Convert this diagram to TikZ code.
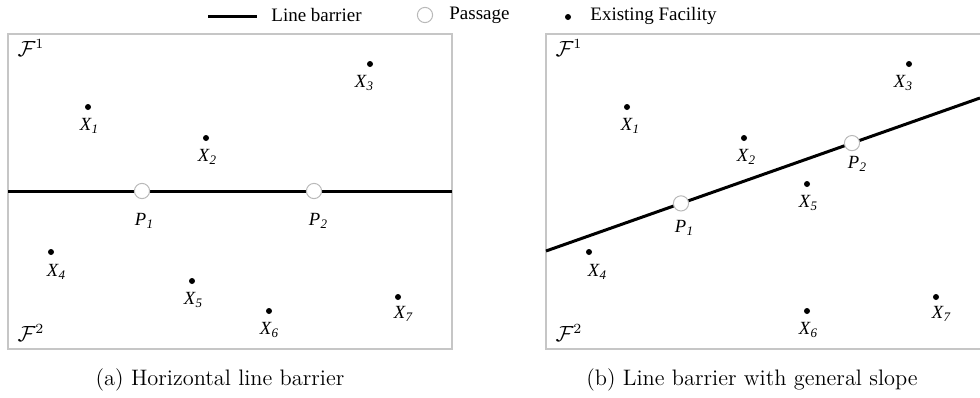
\documentclass[tikz,border=0pt]{standalone}
\usepackage{fontspec}
\newfontfamily\tnr{Liberation Serif}
\usetikzlibrary{positioning}

\newcommand{\fac}[2]{{\tnr\itshape #1\kern0.2pt\raisebox{-0.4ex}{\fontsize{6.5}{7}\selectfont #2}}}

\begin{document}
\begin{tikzpicture}[
  x=0.5pt,y=-0.5pt,
  frame/.style={draw=gray!45,line width=0.7pt},
  barrier/.style={draw=black,line width=1.5pt},
  passage/.style={circle,draw=gray!55,fill=white,line width=0.5pt,
    minimum size=7.6pt,inner sep=0pt},
  facility/.style={circle,fill=black,minimum size=3pt,inner sep=0pt},
  flab/.style={font=\fontsize{9.3}{10}\selectfont,inner sep=0pt},
  region/.style={inner sep=0pt,font=\fontsize{10.5}{11}\selectfont},
  legend/.style={font=\tnr\fontsize{9.5}{10}\selectfont,anchor=west,inner sep=0pt},
  caption/.style={font=\fontsize{11.2}{13}\selectfont}]

  \useasboundingbox (0,0) rectangle (980,397);

  % legend
  \coordinate (lgA) at (208,16);
  \coordinate (lgB) at (257,16);
  \draw[barrier] (lgA) -- (lgB);
  \node[legend] (lgline) at (271,15) {Line barrier};
  \node[passage] (lgpass) at (425,15) {};
  \node[legend] (lgpasstxt) at (449,15) {Passage};
  \node[facility] (lgfac) at (568,17) {};
  \node[legend] (lgfactxt) at (590,16) {Existing Facility};

  % (a) horizontal barrier
  \draw[frame] (8,34) rectangle (452,349);
  \node[region] (aF1) at (31,48) {$\mathcal{F}^1$};
  \node[region] (aF2) at (31,333) {$\mathcal{F}^2$};

  \coordinate (aW) at (8,191);
  \coordinate (aE) at (452,191);
  \draw[barrier] (aW) -- (aE);
  \node[passage] (aP1) at (142,191) {};
  \node[passage] (aP2) at (314,191) {};
  \node[flab] at (144,221) {\fac{P}{1}};
  \node[flab] at (318,221) {\fac{P}{2}};

  \node[facility] (aX1) at (88,107) {};
  \node[facility] (aX2) at (206,138) {};
  \node[facility] (aX3) at (370,64) {};
  \node[facility] (aX4) at (51,252) {};
  \node[facility] (aX5) at (192,281) {};
  \node[facility] (aX6) at (269,311) {};
  \node[facility] (aX7) at (398,297) {};
  \node[flab] at (89,126) {\fac{X}{1}};
  \node[flab] at (207,157) {\fac{X}{2}};
  \node[flab] at (364,83) {\fac{X}{3}};
  \node[flab] at (56,272) {\fac{X}{4}};
  \node[flab] at (193,300) {\fac{X}{5}};
  \node[flab] at (269,330) {\fac{X}{6}};
  \node[flab] at (403,314) {\fac{X}{7}};

  \node[caption] (capa) at (220,380) {(a) Horizontal line barrier};

  % (b) barrier with general slope
  \draw[frame] (980,34) -- (546,34) -- (546,349) -- (980,349);
  \node[region] (bF1) at (569,48) {$\mathcal{F}^1$};
  \node[region] (bF2) at (569,333) {$\mathcal{F}^2$};

  \coordinate (bW) at (546,251);
  \coordinate (bE) at (980,98);
  \draw[barrier] (bW) -- (bE);
  \node[passage] (bP1) at (681,203.4) {};
  \node[passage] (bP2) at (852,143.1) {};
  \node[flab] at (684,228) {\fac{P}{1}};
  \node[flab] at (857,164) {\fac{P}{2}};

  \node[facility] (bX1) at (627,107) {};
  \node[facility] (bX2) at (744,138) {};
  \node[facility] (bX3) at (909,64) {};
  \node[facility] (bX4) at (589,252) {};
  \node[facility] (bX5) at (807,184) {};
  \node[facility] (bX6) at (807,311) {};
  \node[facility] (bX7) at (936,297) {};
  \node[flab] at (630,126) {\fac{X}{1}};
  \node[flab] at (746,157) {\fac{X}{2}};
  \node[flab] at (903,83) {\fac{X}{3}};
  \node[flab] at (597,272) {\fac{X}{4}};
  \node[flab] at (808,203) {\fac{X}{5}};
  \node[flab] at (808,330) {\fac{X}{6}};
  \node[flab] at (941,314) {\fac{X}{7}};

  \node[caption] (capb) at (752,380) {(b) Line barrier with general slope};
\end{tikzpicture}
\end{document}
